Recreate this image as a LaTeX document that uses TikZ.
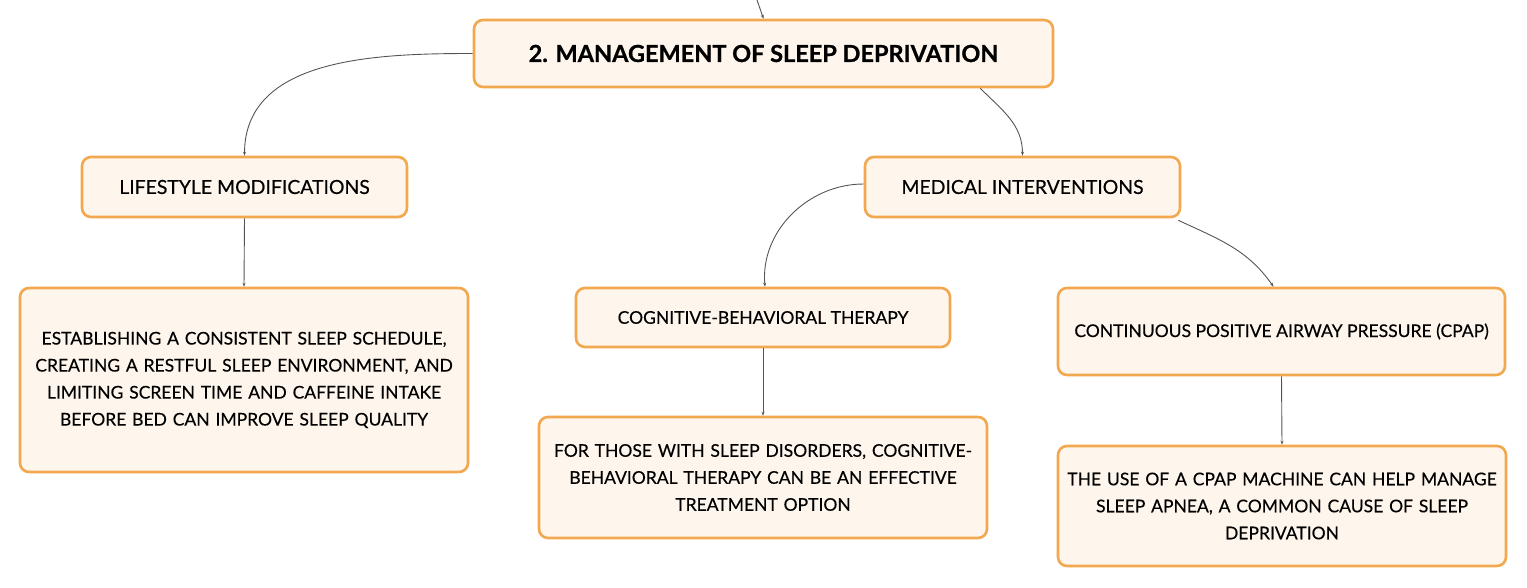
\documentclass[tikz,border=0pt]{standalone}
\usepackage{fontspec}
\setmainfont{Lato}[UprightFeatures={FakeBold=0.35},BoldFeatures={FakeBold=0.8}]
\usetikzlibrary{arrows.meta}
\definecolor{boxborder}{HTML}{F2A84E}
\definecolor{boxfill}{HTML}{FEF6EC}
\definecolor{linkcol}{HTML}{555555}
\tikzset{
  box/.style={draw=boxborder, fill=boxfill, line width=2.6pt, rounded corners=9pt, align=center, inner sep=0pt, text=black, font=\fontsize{17.5}{27}\selectfont},
  headbox/.style={box, font=\fontsize{19.4}{24}\selectfont},
  titlebox/.style={box, font=\fontsize{23.5}{28}\bfseries\selectfont},
  link/.style={draw=linkcol, line width=0.9pt, -{Stealth[length=4pt,width=3pt]}},
}
\begin{document}
\begin{tikzpicture}[x=1pt,y=-1pt]
\useasboundingbox (0,0) rectangle (1527,588);
\node[titlebox, minimum width=579pt, minimum height=67pt] (title) at (763.5,53.5) {2. MANAGEMENT OF SLEEP DEPRIVATION};
\node[headbox, minimum width=325pt, minimum height=60pt] (life) at (244.5,187) {LIFESTYLE MODIFICATIONS};
\node[headbox, minimum width=315pt, minimum height=60pt] (med) at (1022.5,187) {MEDICAL INTERVENTIONS};
\node[box, minimum width=448pt, minimum height=184pt, text width=430pt] (lifed) at (244,380) {ESTABLISHING A CONSISTENT SLEEP SCHEDULE,\\CREATING A RESTFUL SLEEP ENVIRONMENT, AND\\LIMITING SCREEN TIME AND CAFFEINE INTAKE\\BEFORE BED CAN IMPROVE SLEEP QUALITY};
\node[box, minimum width=374pt, minimum height=59pt] (cbt) at (763,317.5) {COGNITIVE-BEHAVIORAL THERAPY};
\node[box, minimum width=447pt, minimum height=87pt] (cpap) at (1281.5,331.5) {CONTINUOUS POSITIVE AIRWAY PRESSURE (CPAP)};
\node[box, minimum width=448pt, minimum height=121pt, text width=430pt] (cbtd) at (763,477.5) {FOR THOSE WITH SLEEP DISORDERS, COGNITIVE-\\BEHAVIORAL THERAPY CAN BE AN EFFECTIVE\\TREATMENT OPTION};
\node[box, minimum width=448pt, minimum height=120pt, text width=430pt] (cpapd) at (1282,506) {THE USE OF A CPAP MACHINE CAN HELP MANAGE\\SLEEP APNEA, A COMMON CAUSE OF SLEEP\\DEPRIVATION};
\coordinate (top) at (757,0);
\draw[link] (top) -- (title.north);
\draw[link] (title.west) to[out=180,in=90] (life.north);
\draw[link] ([xshift=-74pt]title.south east) to[out=-45,in=90] (med.north);
\draw[link] ([yshift=3pt]med.west) to[out=180,in=95] ([xshift=2pt]cbt.north);
\draw[link] ([xshift=-3pt,yshift=-2pt]med.south east) to[out=-25,in=125] ([xshift=-8pt]cpap.north);
\draw[link] (life.south) -- (lifed.north);
\draw[link] (cbt.south) -- (cbtd.north);
\draw[link] (cpap.south) -- (cpapd.north);
\end{tikzpicture}
\end{document}
